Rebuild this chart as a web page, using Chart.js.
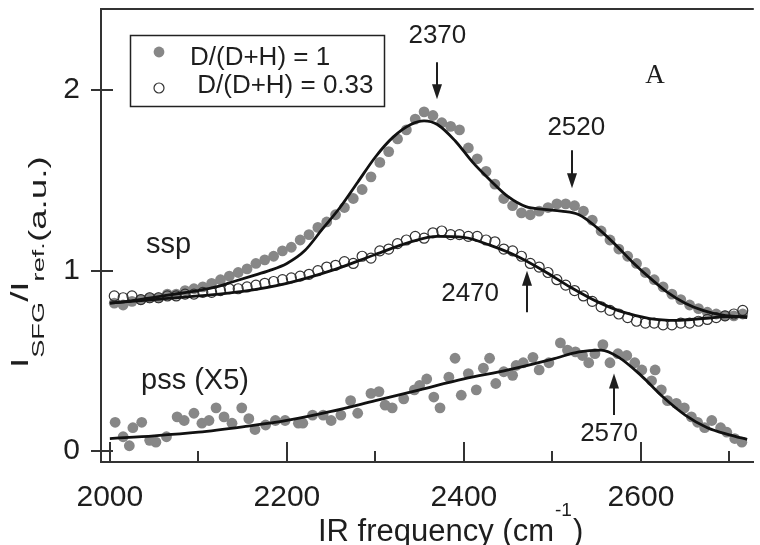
<!DOCTYPE html>
<html>
<head>
<meta charset="utf-8">
<script src="https://cdn.jsdelivr.net/npm/chart.js@4"></script>
<style>
  html, body { margin: 0; padding: 0; background: #fff; }
</style>
</head>
<body>
<canvas class="chart-1" width="760" height="545"></canvas>
<script>
// ssp, D/(D+H) = 1 (filled grey dots)
const sspD1Freq = [2005, 2015, 2025, 2035, 2045, 2055, 2065, 2075, 2085, 2095,
    2105, 2115, 2125, 2135, 2145, 2155, 2165, 2175, 2185, 2195,
    2205, 2215, 2225, 2235, 2245, 2255, 2265, 2275, 2285, 2295,
    2305, 2315, 2325, 2335, 2345, 2355, 2365, 2375, 2385, 2395,
    2405, 2415, 2425, 2435, 2445, 2455, 2465, 2475, 2485, 2495,
    2505, 2515, 2525, 2535, 2545, 2555, 2565, 2575, 2585, 2595,
    2605, 2615, 2625, 2635, 2645, 2655, 2665, 2675, 2685, 2695,
    2705, 2715];
const sspD1Val = [0.82, 0.81, 0.83, 0.84, 0.85, 0.85, 0.87, 0.87, 0.89, 0.90,
    0.91, 0.93, 0.95, 0.97, 0.99, 1.01, 1.04, 1.06, 1.08, 1.11,
    1.13, 1.17, 1.20, 1.24, 1.27, 1.31, 1.35, 1.40, 1.45, 1.52,
    1.60, 1.66, 1.73, 1.78, 1.84, 1.88, 1.86, 1.82, 1.80, 1.78,
    1.68, 1.62, 1.55, 1.48, 1.40, 1.36, 1.32, 1.31, 1.33, 1.35,
    1.37, 1.37, 1.36, 1.33, 1.28, 1.22, 1.17, 1.12, 1.08, 1.04,
    0.99, 0.95, 0.91, 0.87, 0.84, 0.81, 0.79, 0.77, 0.76, 0.75,
    0.75, 0.76];

// ssp, D/(D+H) = 0.33 (open circles)
const sspD033Freq = [2005, 2015, 2025, 2035, 2045, 2055, 2065, 2075, 2085, 2095,
    2105, 2115, 2125, 2135, 2145, 2155, 2165, 2175, 2185, 2195,
    2205, 2215, 2225, 2235, 2245, 2255, 2265, 2275, 2285, 2295,
    2305, 2315, 2325, 2335, 2345, 2355, 2365, 2375, 2385, 2395,
    2405, 2415, 2425, 2435, 2445, 2455, 2465, 2475, 2485, 2495,
    2505, 2515, 2525, 2535, 2545, 2555, 2565, 2575, 2585, 2595,
    2605, 2615, 2625, 2635, 2645, 2655, 2665, 2675, 2685, 2695,
    2705, 2715];
const sspD033Val = [0.86, 0.85, 0.86, 0.84, 0.85, 0.85, 0.86, 0.86, 0.87, 0.87,
    0.88, 0.88, 0.89, 0.90, 0.90, 0.91, 0.92, 0.93, 0.94, 0.95,
    0.96, 0.97, 0.98, 1.00, 1.02, 1.03, 1.05, 1.04, 1.08, 1.07,
    1.11, 1.12, 1.15, 1.17, 1.19, 1.18, 1.21, 1.22, 1.20, 1.20,
    1.19, 1.19, 1.17, 1.16, 1.12, 1.11, 1.08, 1.04, 1.02, 0.99,
    0.95, 0.92, 0.89, 0.86, 0.83, 0.80, 0.78, 0.76, 0.74, 0.72,
    0.71, 0.71, 0.70, 0.70, 0.71, 0.71, 0.72, 0.73, 0.74, 0.75,
    0.76, 0.78];

// pss (X5), filled grey dots
const pssFreq = [2006, 2015, 2022, 2026, 2036, 2045, 2052, 2064, 2076, 2084,
    2095, 2104, 2112, 2120, 2129, 2138, 2149, 2157, 2164, 2176,
    2187, 2198, 2213, 2218, 2229, 2241, 2250, 2261, 2272, 2280,
    2295, 2304, 2311, 2319, 2332, 2344, 2350, 2358, 2366, 2373,
    2383, 2390, 2397, 2405, 2414, 2422, 2429, 2436, 2445, 2455,
    2459, 2467, 2478, 2485, 2496, 2509, 2517, 2526, 2534, 2541,
    2548, 2557, 2565, 2574, 2584, 2593, 2601, 2612, 2616, 2623,
    2630, 2640, 2649, 2657, 2664, 2672, 2680, 2690, 2697, 2706,
    2714];
const pssVal = [0.16, 0.08, 0.03, 0.13, 0.16, 0.06, 0.05, 0.08, 0.19, 0.17,
    0.21, 0.155, 0.17, 0.24, 0.19, 0.155, 0.24, 0.18, 0.12, 0.145,
    0.17, 0.17, 0.155, 0.155, 0.20, 0.20, 0.17, 0.20, 0.28, 0.21,
    0.32, 0.33, 0.255, 0.24, 0.29, 0.34, 0.365, 0.40, 0.30, 0.24,
    0.41, 0.515, 0.31, 0.43, 0.34, 0.46, 0.515, 0.375, 0.44, 0.42,
    0.475, 0.49, 0.52, 0.45, 0.49, 0.60, 0.56, 0.55, 0.53, 0.49,
    0.54, 0.59, 0.49, 0.54, 0.53, 0.49, 0.45, 0.39, 0.45, 0.34,
    0.28, 0.265, 0.24, 0.19, 0.16, 0.13, 0.17, 0.13, 0.105, 0.07,
    0.05];

// fitted curves (black lines)
const fitD1Freq = [2000, 2020, 2040, 2060, 2080, 2100, 2120, 2140, 2160, 2180,
    2200, 2220, 2240, 2260, 2280, 2300, 2320, 2340, 2355, 2370,
    2390, 2410, 2430, 2450, 2470, 2490, 2510, 2530, 2550, 2570,
    2590, 2610, 2630, 2650, 2670, 2690, 2710, 2720];
const fitD1Val = [0.82, 0.83, 0.845, 0.86, 0.875, 0.89, 0.91, 0.94, 0.97, 1.00,
    1.04, 1.11, 1.23, 1.35, 1.49, 1.63, 1.74, 1.81, 1.83, 1.81,
    1.72, 1.60, 1.50, 1.41, 1.355, 1.34, 1.33, 1.31, 1.24, 1.15,
    1.05, 0.96, 0.88, 0.82, 0.78, 0.755, 0.745, 0.74];
const fitD033Freq = [2000, 2050, 2100, 2150, 2200, 2250, 2300, 2340, 2370, 2400,
    2430, 2460, 2490, 2520, 2550, 2580, 2610, 2640, 2670, 2700, 2720];
const fitD033Val = [0.82, 0.84, 0.86, 0.885, 0.93, 1.00, 1.09, 1.16, 1.19, 1.185,
    1.14, 1.08, 1.00, 0.91, 0.83, 0.77, 0.735, 0.725, 0.735, 0.745, 0.745];
const fitPssFreq = [2000, 2050, 2100, 2150, 2200, 2250, 2300, 2350, 2400, 2450,
    2500, 2530, 2555, 2575, 2600, 2625, 2650, 2675, 2700, 2720];
const fitPssVal = [0.07, 0.085, 0.105, 0.135, 0.17, 0.22, 0.28, 0.34, 0.40, 0.45,
    0.51, 0.55, 0.56, 0.52, 0.42, 0.30, 0.20, 0.13, 0.09, 0.065];

// axes
const xTicks = [2000, 2100, 2200, 2300, 2400, 2500, 2600, 2700];
const xTickLabels = ['2000', '', '2200', '', '2400', '', '2600', ''];
const yTicks = [0, 1, 2];

// peak markers: frequency, arrow start, arrow end (y values), label position
const peaks = [
    { text: '2370', x: 2370, from: 2.155, to: 1.95, lx: 2370, ly: 2.30 },
    { text: '2520', x: 2522, from: 1.667, to: 1.457, lx: 2527, ly: 1.79 },
    { text: '2470', x: 2471, from: 0.77, to: 1.0, lx: 2407, ly: 0.87 },
    { text: '2570', x: 2569, from: 0.20, to: 0.43, lx: 2564, ly: 0.094 }
];

const SANS = '"Liberation Sans", Arial, sans-serif';
const GREY = '#878787';
const INK = '#1e1e1e';

const chart1 = document.querySelector('.chart-1');

function toPoints(xs, ys) {
    const pts = [];
    for (let i = 0; i < xs.length; i++) {
        pts.push({ x: xs[i], y: ys[i] });
    }
    return pts;
}

function drawArrow(ctx, x, y1, y2) {
    // line from y1 to y2, head at y2
    const dir = y2 > y1 ? 1 : -1;
    ctx.beginPath();
    ctx.moveTo(x, y1);
    ctx.lineTo(x, y2 - dir * 12);
    ctx.stroke();
    ctx.beginPath();
    ctx.moveTo(x, y2);
    ctx.lineTo(x - 5, y2 - dir * 15);
    ctx.lineTo(x + 5, y2 - dir * 15);
    ctx.closePath();
    ctx.fill();
}

const extras = {
    id: 'extras',
    afterDraw(chart) {
        const ctx = chart.ctx;
        const xs = chart.scales.x;
        const ys = chart.scales.y;
        const area = chart.chartArea;
        ctx.save();

        // frame top + tick marks
        ctx.strokeStyle = '#333';
        ctx.lineWidth = 2;
        ctx.beginPath();
        ctx.moveTo(area.left - 1, area.top);
        ctx.lineTo(area.right, area.top);
        ctx.stroke();
        for (let i = 0; i < xTicks.length; i++) {
            const px = Math.round(xs.getPixelForValue(xTicks[i]));
            const len = xTickLabels[i] ? 20 : 11;
            ctx.beginPath();
            ctx.moveTo(px, area.bottom);
            ctx.lineTo(px, area.bottom - len);
            ctx.stroke();
        }
        for (const v of yTicks) {
            const py = Math.round(ys.getPixelForValue(v));
            ctx.beginPath();
            ctx.moveTo(area.left - 10, py);
            ctx.lineTo(area.left + 12, py);
            ctx.stroke();
        }

        // legend box
        ctx.lineWidth = 1.5;
        ctx.strokeStyle = '#222';
        ctx.strokeRect(130.5, 35.5, 254, 71);
        ctx.fillStyle = GREY;
        ctx.beginPath();
        ctx.arc(159, 52, 5.4, 0, Math.PI * 2);
        ctx.fill();
        ctx.lineWidth = 1.2;
        ctx.strokeStyle = '#333';
        ctx.beginPath();
        ctx.arc(159, 88, 5, 0, Math.PI * 2);
        ctx.stroke();
        ctx.fillStyle = INK;
        ctx.font = '26px ' + SANS;
        ctx.textAlign = 'left';
        ctx.textBaseline = 'alphabetic';
        ctx.fillText('D/(D+H) = 1', 190, 65);
        ctx.fillText(' D/(D+H) = 0.33', 190, 93);

        // peak arrows and labels
        ctx.lineWidth = 2;
        ctx.strokeStyle = INK;
        ctx.textAlign = 'center';
        ctx.textBaseline = 'middle';
        for (const p of peaks) {
            const px = Math.round(xs.getPixelForValue(p.x));
            drawArrow(ctx, px, ys.getPixelForValue(p.from), ys.getPixelForValue(p.to));
            ctx.fillText(p.text, xs.getPixelForValue(p.lx), ys.getPixelForValue(p.ly));
        }

        // panel letter and polarisation labels
        ctx.font = '27px "Liberation Serif", "Times New Roman", serif';
        ctx.fillText('A', 655, 76);
        ctx.font = '29px ' + SANS;
        ctx.textAlign = 'left';
        ctx.textBaseline = 'alphabetic';
        ctx.fillText('ssp', 146, 253);
        ctx.fillText('pss (X5)', 141, 389);

        // x title with superscript
        let tx = 318;
        ctx.font = '31px ' + SANS;
        ctx.fillText('IR frequency (cm', tx, 541);
        tx += ctx.measureText('IR frequency (cm').width + 1;
        ctx.font = '19px ' + SANS;
        ctx.fillText('-1', tx, 516);
        tx += ctx.measureText('-1').width + 1;
        ctx.font = '31px ' + SANS;
        ctx.fillText(')', tx, 541);

        // y title, rotated, with subscripts
        ctx.translate(0, 368);
        ctx.rotate(-Math.PI / 2);
        ctx.scale(1.6, 1);
        const parts = [
            ['I', 23, 28], ['SFG', 17, 44], ['/', 23, 28], ['I', 23, 28],
            ['ref.', 17, 44], ['(a.u.)', 23, 46]
        ];
        let u = 0;
        for (const [t, size, base] of parts) {
            ctx.font = size + 'px ' + SANS;
            ctx.fillText(t, u, base);
            u += ctx.measureText(t).width;
        }
        ctx.restore();
    }
};

function createChart(canvas) {
    new Chart(canvas, {
        type: 'scatter',
        data: {
            datasets: [
                {
                    label: 'fit D1',
                    data: toPoints(fitD1Freq, fitD1Val),
                    showLine: true, pointRadius: 0,
                    borderColor: '#111', borderWidth: 2.8,
                    cubicInterpolationMode: 'monotone',
                    order: 0
                },
                {
                    label: 'fit D033',
                    data: toPoints(fitD033Freq, fitD033Val),
                    showLine: true, pointRadius: 0,
                    borderColor: '#111', borderWidth: 2.8,
                    cubicInterpolationMode: 'monotone',
                    order: 0
                },
                {
                    label: 'fit pss',
                    data: toPoints(fitPssFreq, fitPssVal),
                    showLine: true, pointRadius: 0,
                    borderColor: '#111', borderWidth: 2.8,
                    cubicInterpolationMode: 'monotone',
                    order: 0
                },
                {
                    label: 'D/(D+H) = 0.33',
                    data: toPoints(sspD033Freq, sspD033Val),
                    pointRadius: 5,
                    backgroundColor: 'rgba(255,255,255,0)',
                    borderColor: '#333', borderWidth: 1.2,
                    order: 1
                },
                {
                    label: 'D/(D+H) = 1',
                    data: toPoints(sspD1Freq, sspD1Val),
                    pointRadius: 5.4,
                    backgroundColor: GREY, borderWidth: 0,
                    order: 2
                },
                {
                    label: 'pss (X5)',
                    data: toPoints(pssFreq, pssVal),
                    pointRadius: 5.4,
                    backgroundColor: GREY, borderWidth: 0,
                    order: 2
                }
            ]
        },
        options: {
            responsive: false,
            animation: false,
            devicePixelRatio: 1,
            layout: { padding: { top: 9, right: 0, bottom: 0, left: 0 } },
            plugins: {
                legend: { display: false },
                tooltip: { enabled: false }
            },
            scales: {
                x: {
                    type: 'linear',
                    min: 1990,
                    max: 2727.5,
                    afterBuildTicks: s => { s.ticks = xTicks.map(v => ({ value: v })); },
                    afterFit: s => { s.height = 83; s.paddingLeft = 0; s.paddingRight = 0; },
                    grid: { display: false, drawTicks: false },
                    border: { display: true, color: '#333', width: 2 },
                    ticks: {
                        autoSkip: false, maxRotation: 0, padding: 18,
                        color: INK, font: { size: 30, family: SANS },
                        callback: (v, i) => xTickLabels[i]
                    }
                },
                y: {
                    min: -0.06,
                    max: 2.45,
                    afterBuildTicks: s => { s.ticks = yTicks.map(v => ({ value: v })); },
                    afterFit: s => { s.width = 101; s.paddingTop = 0; s.paddingBottom = 0; },
                    grid: { display: false, drawTicks: false },
                    border: { display: true, color: '#333', width: 2 },
                    ticks: {
                        padding: 21,
                        color: INK, font: { size: 30, family: SANS },
                        callback: v => String(v)
                    }
                }
            }
        },
        plugins: [extras]
    });
}

createChart(chart1);
</script>
</body>
</html>
